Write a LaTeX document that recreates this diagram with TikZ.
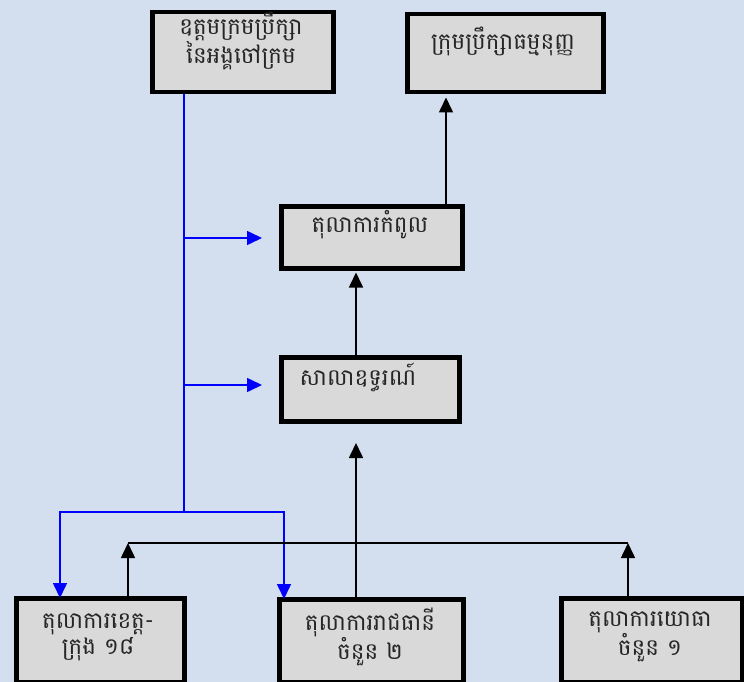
\documentclass[tikz,border=0pt]{standalone}
\usepackage{fontspec}
\newfontfamily\khmer[Script=Khmer]{Battambang}
\usetikzlibrary{arrows.meta}
\definecolor{bgcol}{HTML}{D3DFEF}
\definecolor{boxfill}{HTML}{D9D9D9}
\begin{document}
\begin{tikzpicture}[x=1pt,y=-1pt,
  box/.style={draw=black, line width=4.5pt, fill=boxfill, inner sep=0pt, anchor=north west},
  lbl/.style={font=\khmer\fontsize{23}{26}\selectfont, align=center, inner sep=0pt, text=black!85},
  bline/.style={draw=blue, line width=1.6pt},
  barr/.style={bline, -{Triangle[length=15pt,width=14pt]}},
  kline/.style={draw=black, line width=1.6pt},
  karr/.style={kline, -{Triangle[length=15pt,width=14pt]}}]
\fill[bgcol] (0,0) rectangle (744,682);
\useasboundingbox (0,0) rectangle (744,682);
% boxes
\node[box, minimum width=181pt, minimum height=80pt] (b1) at (150,10) {};
\node[box, minimum width=196pt, minimum height=78pt] (b2) at (405,12) {};
\node[box, minimum width=181pt, minimum height=62pt] (b3) at (279,204) {};
\node[box, minimum width=178pt, minimum height=64pt] (b4) at (279,355) {};
\node[box, minimum width=168pt, minimum height=84pt] (b5) at (14,596) {};
\node[box, minimum width=184pt, minimum height=83pt] (b6) at (277,597) {};
\node[box, minimum width=181pt, minimum height=84pt] (b7) at (559,596) {};
% labels
\node[lbl] (t1) at (241,41) {ឧត្តមក្រមប្រឹក្សា\\នៃអង្គចៅក្រម};
\node[lbl] (t2) at (503,41) {ក្រុមប្រឹក្សាធម្មនុញ្ញ};
\node[lbl] (t3) at (370,225) {តុលាការកំពូល};
\node[lbl] (t4) at (358,377) {សាលាឧទ្ធរណ៍};
\node[lbl] (t5) at (98,637) {តុលាការខេត្ត-\\ក្រុង ១៨};
\node[lbl] (t6) at (370,637) {តុលាការរាជធានី\\ចំនួន ២};
\node[lbl] (t7) at (650,637) {តុលាការយោធា\\ចំនួន ១};
% coordinates
\coordinate (tx) at (184,0);
\coordinate (tb) at (184,512);
\coordinate (j1) at (184,238);
\coordinate (j2) at (184,385);
\coordinate (e1) at (262,238);
\coordinate (e2) at (262,385);
\coordinate (l5) at (60,512);
\coordinate (r6) at (284,512);
\coordinate (x446) at (446,0);
\coordinate (x356) at (356,0);
\coordinate (m443) at (356,443);
\coordinate (hl) at (128,543);
\coordinate (hr) at (628,543);
% blue connectors
\draw[bline] (b1.south -| tx) -- (tb);
\draw[barr] (j1) -- (e1);
\draw[barr] (j2) -- (e2);
\draw[barr] (tb) -- (l5) -- ([yshift=-2pt]b5.north -| l5);
\draw[barr] (tb) -- (r6) -- ([yshift=-2pt]b6.north -| r6);
% black connectors
\draw[karr] (b3.north -| x446) -- ([yshift=-3pt]b2.south -| x446);
\draw[karr] (b4.north -| x356) -- ([yshift=-2pt]b3.south -| x356);
\draw[karr] (b6.north -| x356) -- (m443);
\draw[kline] (hl) -- (hr);
\draw[karr] (b5.north -| hl) -- (hl);
\draw[karr] (b7.north -| hr) -- (hr);
\end{tikzpicture}
\end{document}
